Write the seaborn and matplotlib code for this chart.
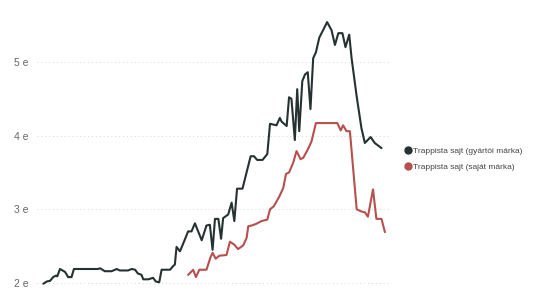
import matplotlib
matplotlib.use("Agg")
import matplotlib.pyplot as plt
import seaborn as sns
import pandas as pd
from matplotlib.lines import Line2D

# time axis (weeks, no labels shown)
t_gyartoi = [0.1, 1.1, 2.1, 3.0, 3.8, 4.2, 5.0, 6.5, 7.4, 8.4, 9.1, 16.2, 16.8, 18.2, 20.2,
             21.7, 22.6, 25.0, 26.1, 27.1, 27.9, 29.0, 29.5, 31.0, 32.4, 33.2, 34.2, 34.9,
             37.4, 38.3, 38.8, 39.3, 40.3, 41.3, 42.7, 43.7, 44.7, 46.7, 48.1, 49.1, 49.9,
             50.6, 51.6, 52.4, 53.0, 54.5, 55.5, 56.3, 57.1, 58.7, 61.1, 62.1, 63.0, 64.6,
             66.0, 66.8, 68.7, 69.7, 70.2, 71.7, 72.4, 73.1, 74.1, 74.8, 75.4, 76.3, 77.1,
             77.9, 78.7, 79.5, 80.3, 81.3, 82.4, 83.6, 84.9, 85.9, 86.9, 88.1, 89.0, 90.1,
             90.8, 92.3, 93.7, 94.7, 96.4, 97.6, 99.6]
v_gyartoi = [1.99, 2.02, 2.03, 2.08, 2.10, 2.09, 2.19, 2.15, 2.08, 2.08, 2.19, 2.19, 2.20, 2.16,
             2.16, 2.19, 2.17, 2.17, 2.19, 2.18, 2.13, 2.11, 2.05, 2.05, 2.07, 2.02, 2.01, 2.18,
             2.18, 2.23, 2.25, 2.49, 2.43, 2.54, 2.70, 2.70, 2.81, 2.58, 2.78, 2.79, 2.45,
             2.87, 2.87, 2.60, 2.88, 2.93, 3.09, 2.84, 3.28, 3.28, 3.72, 3.72, 3.67, 3.67,
             3.75, 4.16, 4.14, 4.24, 4.19, 4.13, 4.52, 4.50, 3.94, 4.63, 4.06, 4.74, 4.83,
             4.86, 4.36, 5.05, 5.13, 5.33, 5.43, 5.54, 5.43, 5.23, 5.39, 5.39, 5.20, 5.37,
             5.05, 4.53, 4.10, 3.90, 3.98, 3.90, 3.83]

t_sajat = [42.7, 44.2, 45.0, 46.0, 48.1, 49.3, 49.9, 50.8, 51.9, 54.0, 55.0, 56.3, 57.4, 58.9,
           59.9, 60.4, 61.4, 62.6, 64.3, 66.0, 66.8, 67.9, 69.5, 70.7, 71.5, 72.4, 73.6,
           74.6, 75.8, 76.6, 77.9, 79.0, 80.3, 86.6, 87.6, 88.3, 89.3, 90.3, 92.3, 93.7,
           94.7, 95.6, 97.1, 98.1, 99.6, 100.6]
v_sajat = [2.11, 2.18, 2.08, 2.18, 2.18, 2.35, 2.41, 2.33, 2.37, 2.38, 2.56, 2.52, 2.46, 2.51,
           2.61, 2.77, 2.78, 2.80, 2.84, 2.86, 3.00, 3.04, 3.17, 3.29, 3.48, 3.50, 3.63,
           3.79, 3.68, 3.70, 3.81, 3.92, 4.17, 4.17, 4.07, 4.14, 4.06, 4.06, 3.00, 2.97,
           2.96, 2.90, 3.27, 2.87, 2.87, 2.69]

series_names = ["Trappista sajt (gyártói márka)", "Trappista sajt (saját márka)"]
series_colors = ["#263131", "#b5504d"]
y_ticks = [2, 3, 4, 5]
y_tick_labels = ["2 e", "3 e", "4 e", "5 e"]

df = pd.concat([
    pd.DataFrame({"t": t_gyartoi, "ár": v_gyartoi, "sorozat": series_names[0]}),
    pd.DataFrame({"t": t_sajat, "ár": v_sajat, "sorozat": series_names[1]}),
])

sns.set_theme(style="white")
plt.rcParams['font.family'] = ['Liberation Sans', 'DejaVu Sans']

fig = plt.figure(figsize=(5.4, 3.04), dpi=100)
ax = fig.add_axes([37/540, 0, (390-37)/540, 1])

sns.lineplot(data=df, x="t", y="ár", hue="sorozat", palette=dict(zip(series_names, series_colors)),
             linewidth=1.5, ax=ax, legend=False, estimator=None, sort=False)

ax.set_xlim(-1.76, 102.1)
ax.set_ylim(1.715, 5.84)
ax.set_yticks(y_ticks)
ax.set_yticklabels(y_tick_labels, color="#666666", fontsize=7.5)
ax.set_xticks([])
ax.set_xlabel("")
ax.set_ylabel("")
ax.tick_params(axis="y", length=0, pad=6)
ax.yaxis.grid(True, linestyle=(0, (1, 3)), color="#d4d4d4", linewidth=0.7)
for s in ax.spines.values():
    s.set_visible(False)
ax.set_facecolor("none")

handles = [Line2D([], [], marker="o", linestyle="none", markersize=5, color=c) for c in series_colors]
leg = fig.legend(handles, series_names, loc="center left", bbox_to_anchor=(400/540, 1 - 159/304),
                 frameon=False, fontsize=6.0, handletextpad=0.05, handlelength=1.0,
                 labelspacing=0.95, borderpad=0)
for txt in leg.get_texts():
    txt.set_color("#444444")

fig.savefig("out.png", dpi=100)
